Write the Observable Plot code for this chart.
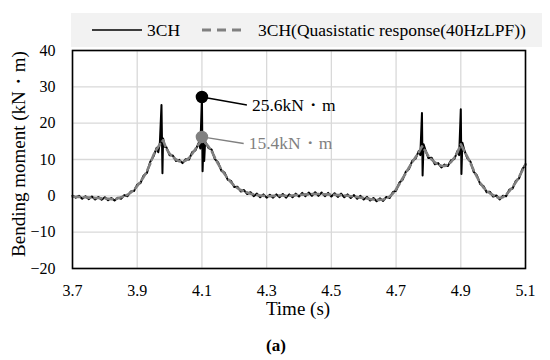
<!DOCTYPE html>
<html>
<head>
<meta charset="utf-8">
<script src="https://cdn.jsdelivr.net/npm/d3@7"></script>
<script src="https://cdn.jsdelivr.net/npm/@observablehq/plot@0.6"></script>
<style>
  html, body { margin: 0; padding: 0; background: #fff; }
  #wrap { position: relative; width: 550px; height: 360px; overflow: hidden;
          font-family: "Liberation Serif", "Times New Roman", serif; color: #000; }
  #chart { position: absolute; left: 0; top: 0; }
  #chart svg, #chart svg text { font-family: "Liberation Serif", "Times New Roman", serif !important; }
  #legend { position: absolute; left: 0; top: 0; }
  .ttl { position: absolute; font-size: 19px; white-space: nowrap; line-height: 1;
         font-family: "Liberation Serif", "Times New Roman", serif; }
  #ytitle { left: 18px; top: 154px; transform: translate(-50%, -50%) rotate(-90deg); }
  #xtitle { left: 298px; top: 308px; transform: translate(-50%, -50%); }
  #cap { left: 276px; top: 345px; transform: translate(-50%, -50%); font-weight: bold; font-size: 17px; }
</style>
</head>
<body>
<div id="wrap">
  <div id="chart"></div>
  <svg id="legend" width="550" height="50"></svg>
  <div class="ttl" id="ytitle"></div>
  <div class="ttl" id="xtitle"></div>
  <div class="ttl" id="cap"></div>
</div>
<script>
// ---- data ----
const seriesNames = ["3CH", "3CH(Quasistatic response(40HzLPF))"];
const seriesColors = ["#000000", "#808080"];
const xTitle = "Time (s)";
const yTitle = "Bending moment (kN\u30FBm)";
const caption = "(a)";
const xTicks = [3.7, 3.9, 4.1, 4.3, 4.5, 4.7, 4.9, 5.1];
const yTicks = [-20, -10, 0, 10, 20, 30, 40];

// quasistatic (40 Hz LPF) response
const quasiTime = [3.70,3.71,3.72,3.73,3.74,3.75,3.76,3.77,3.78,3.79,3.80,3.81,3.82,3.83,3.84,3.85,3.86,3.87,3.88,3.89,
  3.90,3.91,3.92,3.93,3.94,3.95,3.96,3.97,3.98,3.99,4.00,4.01,4.02,4.03,4.04,4.05,4.06,4.07,4.08,4.09,
  4.10,4.11,4.12,4.13,4.14,4.15,4.16,4.17,4.18,4.19,4.20,4.21,4.22,4.23,4.24,4.25,4.26,4.27,4.28,4.29,
  4.30,4.31,4.32,4.33,4.34,4.35,4.36,4.37,4.38,4.39,4.40,4.41,4.42,4.43,4.44,4.45,4.46,4.47,4.48,4.49,
  4.50,4.51,4.52,4.53,4.54,4.55,4.56,4.57,4.58,4.59,4.60,4.61,4.62,4.63,4.64,4.65,4.66,4.67,4.68,4.69,
  4.70,4.71,4.72,4.73,4.74,4.75,4.76,4.77,4.78,4.79,4.80,4.81,4.82,4.83,4.84,4.85,4.86,4.87,4.88,4.89,
  4.90,4.91,4.92,4.93,4.94,4.95,4.96,4.97,4.98,4.99,5.00,5.01,5.02,5.03,5.04,5.05,5.06,5.07,5.08,5.09,5.10];
const quasiValue = [-0.2,-0.3,-0.3,-0.4,-0.4,-0.5,-0.5,-0.6,-0.6,-0.7,-0.7,-0.8,-0.9,-0.9,-0.7,-0.4,-0.1,0.3,0.9,1.7,
  2.7,3.9,5.2,6.8,8.8,11.2,12.8,14.2,15.3,13.0,11.6,10.7,10.0,9.5,9.4,9.7,10.4,11.6,12.9,14.2,
  15.4,14.6,13.6,12.3,10.5,8.8,7.3,6.0,4.8,3.7,2.8,2.1,1.6,1.2,0.9,0.6,0.4,0.2,0.1,0.0,
  0.0,-0.1,0.0,0.0,0.1,0.1,0.0,0.0,0.1,0.2,0.3,0.3,0.4,0.4,0.5,0.5,0.5,0.5,0.4,0.4,
  0.3,0.3,0.2,0.2,0.1,0.0,-0.1,-0.2,-0.3,-0.5,-0.6,-0.7,-0.9,-1.0,-1.1,-1.1,-1.0,-0.7,-0.2,0.6,
  1.8,3.2,4.8,6.2,7.8,9.2,10.6,11.9,13.6,12.4,10.9,10.0,9.2,8.6,8.3,8.2,8.6,9.3,10.5,12.0,
  14.2,12.5,10.8,9.0,7.0,5.2,3.6,2.3,1.4,0.7,0.2,-0.3,-0.6,-0.4,0.3,1.3,2.4,3.7,5.2,6.9,8.7];

// measured 3CH response
const rawTime = [3.70,3.71,3.72,3.73,3.74,3.75,3.76,3.77,3.78,3.79,3.80,3.81,3.82,3.83,3.84,3.85,3.86,3.87,3.88,3.89,
  3.90,3.91,3.92,3.93,3.94,3.95,3.96,3.965,3.97,3.975,3.978,3.98,3.985,3.99,4.00,4.01,4.02,4.03,4.04,4.05,4.06,4.07,4.08,4.09,4.095,
  4.10,4.102,4.105,4.107,4.11,4.12,4.13,4.14,4.15,4.16,4.17,4.18,4.19,4.20,4.21,4.22,4.23,4.24,4.25,4.26,4.27,4.28,4.29,
  4.30,4.31,4.32,4.33,4.34,4.35,4.36,4.37,4.38,4.39,4.40,4.41,4.42,4.43,4.44,4.45,4.46,4.47,4.48,4.49,
  4.50,4.51,4.52,4.53,4.54,4.55,4.56,4.57,4.58,4.59,4.60,4.61,4.62,4.63,4.64,4.65,4.66,4.67,4.68,4.69,
  4.70,4.71,4.72,4.73,4.74,4.75,4.76,4.77,4.775,4.78,4.782,4.785,4.79,4.80,4.81,4.82,4.83,4.84,4.85,4.86,4.87,4.88,4.89,4.895,
  4.90,4.902,4.905,4.91,4.92,4.93,4.94,4.95,4.96,4.97,4.98,4.99,5.00,5.01,5.02,5.03,5.04,5.05,5.06,5.07,5.08,5.09,5.10];
const rawValue = [0.1,-0.5,0.0,-0.8,-0.1,-0.9,-0.2,-1.0,-0.3,-1.1,-0.4,-1.2,-0.6,-1.3,-0.5,-0.8,0.2,-0.1,1.2,1.3,
  3.1,3.5,5.6,6.3,9.3,10.8,13.2,12.0,14.6,25.0,6.2,15.8,13.5,13.4,11.2,11.1,9.6,9.9,9.0,10.1,10.0,12.0,12.5,14.6,13.0,
  27.2,6.8,15.0,9.6,15.0,13.2,12.7,10.1,9.2,6.9,6.4,4.4,4.1,2.4,2.5,1.2,1.6,0.5,1.0,-0.1,0.6,-0.4,0.4,
  -0.5,0.3,-0.5,0.4,-0.4,0.5,-0.5,0.4,-0.4,0.6,-0.2,0.8,-0.1,0.9,0.0,1.0,0.0,0.9,-0.1,0.8,
  -0.2,0.7,-0.3,0.6,-0.4,0.4,-0.6,0.2,-0.8,0.0,-1.0,-0.3,-1.3,-0.6,-1.5,-0.7,-1.4,-0.3,-0.6,1.0,
  1.4,3.6,4.4,6.6,7.4,9.6,10.2,12.3,11.2,22.8,5.6,14.2,12.8,10.4,10.5,8.7,9.0,7.8,8.6,8.2,9.8,10.1,12.4,11.2,
  23.8,6.0,14.6,12.8,10.4,9.4,6.6,5.6,3.2,2.7,1.0,1.1,-0.2,0.1,-1.0,0.0,-0.1,1.7,2.0,4.1,4.8,7.3,8.6];

// peak annotations
const peakTime = [4.1, 4.1];
const peakValue = [27.2, 16.2];
const peakLabel = ["25.6kN\u30FBm", "15.4kN\u30FBm"];
const labelTime = [4.239, 4.229];
const labelValue = [25.0, 14.4];

// ---- build tables ----
const quasi = quasiTime.map((t, i) => ({t, v: quasiValue[i]}));
const raw = rawTime.map((t, i) => ({t, v: rawValue[i]}));
const peaks = peakTime.map((t, i) => ({t, v: peakValue[i], lt: labelTime[i], lv: labelValue[i], label: peakLabel[i], color: seriesColors[i]}));

const fontFamily = "Liberation Serif, Times New Roman, serif";

const chart = Plot.plot({
  width: 550,
  height: 320,
  marginTop: 50,
  marginLeft: 72,
  marginRight: 25,
  marginBottom: 52,
  style: {fontFamily, fontSize: "16px", color: "#000", background: "transparent", overflow: "visible"},
  x: {domain: [3.7, 5.1]},
  y: {domain: [-20, 40]},
  marks: [
    Plot.gridX(xTicks, {stroke: "#d9d9d9", strokeOpacity: 1, strokeWidth: 1.3}),
    Plot.gridY(yTicks, {stroke: "#d9d9d9", strokeOpacity: 1, strokeWidth: 1.3}),
    Plot.axisX(xTicks, {tickSize: 0, tickPadding: 16, tickFormat: d3.format(".1f"), label: null, fontSize: 16, fontFamily}),
    Plot.axisY(yTicks, {tickSize: 0, tickPadding: 17, label: null, fontSize: 16, fontFamily}),
    Plot.line(raw, {x: "t", y: "v", stroke: seriesColors[0], strokeWidth: 2, curve: "linear"}),
    Plot.line(quasi, {x: "t", y: "v", stroke: seriesColors[1], strokeWidth: 2.6, strokeDasharray: "7,4", curve: "linear"}),
    Plot.link(peaks, {x1: "t", y1: "v", x2: "lt", y2: "lv", stroke: "color", strokeWidth: 1.3}),
    Plot.dot(peaks, {x: "t", y: "v", r: 5.5, fill: "color", stroke: "color"}),
    Plot.text(peaks, {x: "lt", y: "lv", text: "label", fill: "color", dx: 5, textAnchor: "start", fontSize: 17.5, fontFamily}),
    Plot.frame({stroke: "#000", strokeWidth: 1.6})
  ]
});
chart.setAttribute("font-family", fontFamily);
document.getElementById("chart").appendChild(chart);

// ---- legend ----
const lg = d3.select("#legend");
lg.append("rect").attr("x", 71).attr("y", 13).attr("width", 471).attr("height", 34).attr("fill", "#f2f2f2");
const legendItems = [
  {x1: 92, x2: 142, tx: 147, dash: null, w: 1.5},
  {x1: 202, x2: 245, tx: 258, dash: "9,6", w: 3}
];
legendItems.forEach((d, i) => {
  lg.append("line").attr("x1", d.x1).attr("x2", d.x2).attr("y1", 30).attr("y2", 30)
    .attr("stroke", seriesColors[i]).attr("stroke-width", d.w)
    .attr("stroke-dasharray", d.dash);
  lg.append("text").attr("x", d.tx).attr("y", 30).attr("dy", "0.35em")
    .attr("font-family", fontFamily).attr("font-size", 17.5).attr("fill", "#000")
    .text(seriesNames[i]);
});

document.getElementById("ytitle").textContent = yTitle;
document.getElementById("xtitle").textContent = xTitle;
document.getElementById("cap").textContent = caption;
</script>
</body>
</html>
